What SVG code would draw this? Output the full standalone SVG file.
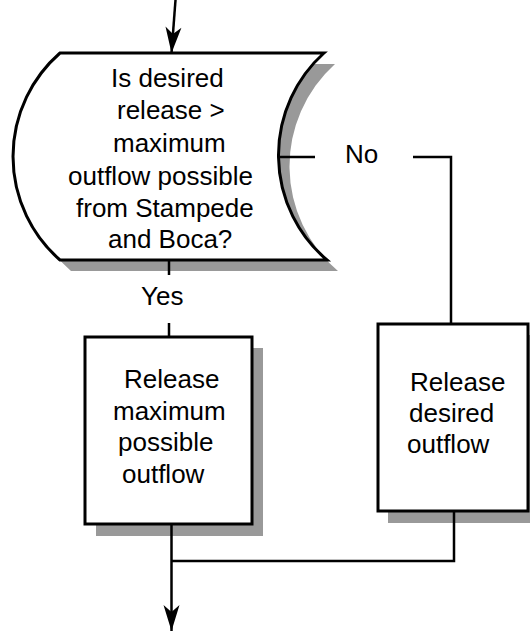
<svg xmlns="http://www.w3.org/2000/svg" width="530" height="632" viewBox="0 0 530 632">
  <style>
    .shape { fill: #ffffff; stroke: #000000; stroke-width: 3; stroke-linejoin: miter; }
    .shadow { fill: #999999; stroke: none; }
    .wire { fill: none; stroke: #000000; stroke-width: 2.5; }
    .label { font-family: "Liberation Sans", Arial, sans-serif; font-size: 26px; fill: #000000; }
  </style>
  <defs>
    <marker id="arrowhead" markerUnits="userSpaceOnUse" markerWidth="30" markerHeight="20"
            viewBox="-27 -10 29 20" refX="0" refY="0" orient="auto">
      <path d="M0,0 L-26,-8 L-19,0 L-26,8 Z" fill="#000000"/>
    </marker>
  </defs>

  <rect width="530" height="632" fill="#ffffff"/>

  <!-- decision: desired release vs. maximum outflow -->
  <g id="decision">
    <path class="shadow" d="M71,64 L335,64 A137.5,137.5 0 0 0 338,271 L71,271 A137.5,137.5 0 0 1 71,64 Z"/>
    <path class="shape" d="M60,53 L324,53 A137.5,137.5 0 0 0 327,260 L60,260 A137.5,137.5 0 0 1 60,53 Z"/>
    <text class="label" x="111" y="87">Is desired</text>
    <text class="label" x="117" y="119">release &gt;</text>
    <text class="label" x="113" y="152">maximum</text>
    <text class="label" x="68" y="185">outflow possible</text>
    <text class="label" x="76" y="217">from Stampede</text>
    <text class="label" x="108" y="248">and Boca?</text>
  </g>

  <!-- process: release maximum possible outflow -->
  <g id="release-maximum">
    <rect class="shadow" x="96" y="348" width="167" height="188"/>
    <rect class="shape" x="85" y="337" width="167" height="187"/>
    <text class="label" x="124" y="388">Release</text>
    <text class="label" x="113" y="420">maximum</text>
    <text class="label" x="118" y="451">possible</text>
    <text class="label" x="122" y="483">outflow</text>
  </g>

  <!-- process: release desired outflow -->
  <g id="release-desired">
    <rect class="shadow" x="388" y="335" width="150" height="188"/>
    <rect class="shape" x="378" y="324" width="150" height="187"/>
    <text class="label" x="410" y="391">Release</text>
    <text class="label" x="409" y="422">desired</text>
    <text class="label" x="407" y="453">outflow</text>
  </g>

  <!-- connectors -->
  <g id="connectors">
    <line class="wire" x1="175.5" y1="0" x2="171.5" y2="53" marker-end="url(#arrowhead)"/>
    <line class="wire" x1="169" y1="260" x2="169" y2="275"/>
    <line class="wire" x1="169" y1="323" x2="169" y2="337"/>
    <line class="wire" x1="278" y1="157" x2="315" y2="157"/>
    <polyline class="wire" points="413,157 451,157 451,324"/>
    <polyline class="wire" points="454,511 454,561 171.5,561"/>
    <line class="wire" x1="171.5" y1="524" x2="171.5" y2="631" marker-end="url(#arrowhead)"/>
    <text class="label" x="141" y="305">Yes</text>
    <text class="label" x="345" y="163">No</text>
  </g>
</svg>
